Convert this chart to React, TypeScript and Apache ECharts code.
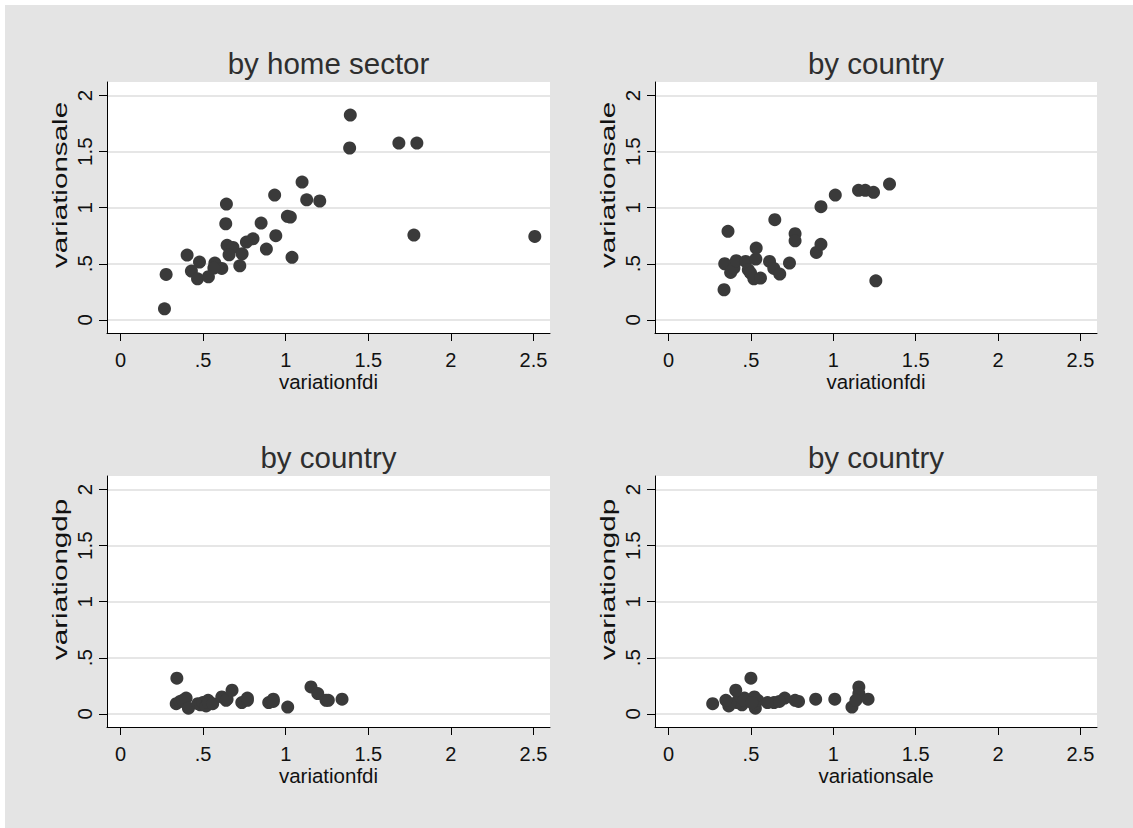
import React, { useEffect, useRef } from "react";
import * as echarts from "echarts";

// ---- data ----
const sectorFdi = [1.391, 1.387, 1.685, 1.794, 1.099, 0.933, 1.127, 1.206, 0.641, 1.01, 1.028, 0.637, 0.851, 0.802, 0.762, 0.94, 1.776, 2.508, 0.645, 0.681, 0.657, 0.736, 0.883, 0.403, 0.478, 0.571, 1.038, 0.722, 0.613, 0.565, 0.429, 0.466, 0.532, 0.276, 0.266];
const sectorSale = [1.827, 1.533, 1.577, 1.577, 1.229, 1.113, 1.071, 1.06, 1.033, 0.923, 0.917, 0.857, 0.863, 0.723, 0.693, 0.75, 0.756, 0.744, 0.664, 0.646, 0.58, 0.589, 0.631, 0.577, 0.515, 0.506, 0.557, 0.482, 0.458, 0.461, 0.435, 0.366, 0.384, 0.405, 0.098];

const countryFdi = [0.337, 0.341, 0.361, 0.377, 0.397, 0.411, 0.468, 0.484, 0.498, 0.518, 0.53, 0.532, 0.558, 0.613, 0.639, 0.645, 0.675, 0.734, 0.768, 0.768, 0.897, 0.925, 0.925, 1.012, 1.153, 1.194, 1.244, 1.258, 1.341];
const countrySale = [0.268, 0.5, 0.789, 0.423, 0.461, 0.527, 0.521, 0.446, 0.417, 0.366, 0.542, 0.64, 0.372, 0.521, 0.458, 0.893, 0.408, 0.506, 0.768, 0.705, 0.601, 1.009, 0.673, 1.113, 1.155, 1.155, 1.137, 0.348, 1.211];
const countryGdp = [0.09, 0.318, 0.11, 0.12, 0.14, 0.05, 0.09, 0.08, 0.1, 0.07, 0.12, 0.1, 0.09, 0.15, 0.12, 0.13, 0.21, 0.1, 0.12, 0.14, 0.1, 0.13, 0.11, 0.06, 0.24, 0.18, 0.12, 0.12, 0.13];

const xTickValues = [0, 0.5, 1, 1.5, 2, 2.5];
const yTickValues = [0, 0.5, 1, 1.5, 2];
const panelTitles = ["by home sector", "by country", "by country", "by country"];
const xNames = ["variationfdi", "variationfdi", "variationfdi", "variationsale"];
const yNames = ["variationsale", "variationsale", "variationgdp", "variationgdp"];

// ---- layout (chart coordinates) ----
const grids = [
  { left: 102, top: 77, width: 443, height: 251 },
  { left: 650, top: 77, width: 442, height: 251 },
  { left: 102, top: 471, width: 443, height: 251 },
  { left: 650, top: 471, width: 442, height: 251 },
];
const yNameStart = [263, 263, 655, 655];

const FONT = "'Liberation Sans', Arial, Helvetica, sans-serif";
const fmt = (v: number) => (v === 0 ? "0" : v < 1 ? String(v).slice(1) : String(v));

function pairs(xs: number[], ys: number[]) {
  return xs.map((x, i) => [x, ys[i]]);
}

export default function App() {
  const ref = useRef<HTMLDivElement>(null);
  useEffect(() => {
    document.body.style.margin = "0";
    document.documentElement.style.background = "#e4e4e4";
    if (!ref.current) return;
    const chart = echarts.init(ref.current, undefined, { renderer: "svg" });
    const seriesData = [
      pairs(sectorFdi, sectorSale),
      pairs(countryFdi, countrySale),
      pairs(countryFdi, countryGdp),
      pairs(countrySale, countryGdp),
    ];
    const graphics: any[] = [];
    grids.forEach((g, i) => {
      graphics.push({
        type: "text",
        x: g.left + g.width / 2,
        y: g.top - 19,
        style: {
          text: panelTitles[i],
          fontSize: 29.5,
          fontFamily: FONT,
          fill: "#2e2e2e",
          align: "center",
          verticalAlign: "middle",
        },
      });
      graphics.push({
        type: "text",
        x: g.left - 47,
        y: yNameStart[i],
        rotation: Math.PI / 2,
        scaleX: 1.48,
        style: {
          text: yNames[i],
          fontSize: 20,
          fontFamily: FONT,
          fill: "#111",
          align: "left",
          verticalAlign: "middle",
          lineHeight: 16,
        },
      });
    });
    chart.setOption({
      animation: false,
      backgroundColor: "transparent",
      grid: grids.map((g) => ({
        ...g,
        show: true,
        backgroundColor: "#ffffff",
        borderWidth: 0,
        containLabel: false,
        outerBoundsMode: "none",
      })),
      xAxis: grids.map((_, i) => ({
        type: "value",
        gridIndex: i,
        min: -0.082,
        max: 2.6,
        name: xNames[i],
        nameLocation: "middle",
        nameGap: 40.5,
        nameMoveOverlap: false,
        nameTextStyle: { fontSize: 20.5, color: "#111", fontFamily: FONT, lineHeight: 15 },
        axisLine: { show: true, onZero: false, lineStyle: { color: "#000", width: 1 } },
        axisTick: { show: true, length: 8, customValues: xTickValues, lineStyle: { color: "#000", width: 1 } },
        axisLabel: {
          customValues: xTickValues,
          formatter: fmt,
          fontSize: 20,
          lineHeight: 15,
          color: "#111",
          fontFamily: FONT,
          margin: 19.5,
        },
        splitLine: { show: false },
      })),
      yAxis: grids.map((_, i) => ({
        type: "value",
        gridIndex: i,
        min: -0.118,
        max: 2.122,
        axisLine: { show: true, onZero: false, lineStyle: { color: "#000", width: 1 } },
        axisTick: { show: true, length: 8, customValues: yTickValues, lineStyle: { color: "#000", width: 1 } },
        axisLabel: {
          customValues: yTickValues,
          formatter: fmt,
          rotate: 90,
          fontSize: 20.5,
          lineHeight: 16,
          color: "#111",
          fontFamily: FONT,
          margin: 15,
        },
        splitLine: { show: true, lineStyle: { color: "#e6e6e6", width: 2 } },
      })),
      series: seriesData.map((d, i) => ({
        type: "scatter",
        xAxisIndex: i,
        yAxisIndex: i,
        data: d,
        symbol: "circle",
        symbolSize: 13,
        itemStyle: { color: "#3a3a3a", opacity: 1 },
        z: 3,
      })),
      graphic: graphics,
    });
    return () => chart.dispose();
  }, []);
  return (
    <div style={{ position: "fixed", left: 0, top: 0, width: 1400, height: 1100, background: "#ffffff", overflow: "hidden" }}>
      <div style={{ position: "absolute", left: 5, top: 5, width: 1395, height: 1095, background: "#e4e4e4" }} />
      <div ref={ref} style={{ position: "absolute", left: 5, top: 5, width: 1128, height: 823 }} />
    </div>
  );
}
